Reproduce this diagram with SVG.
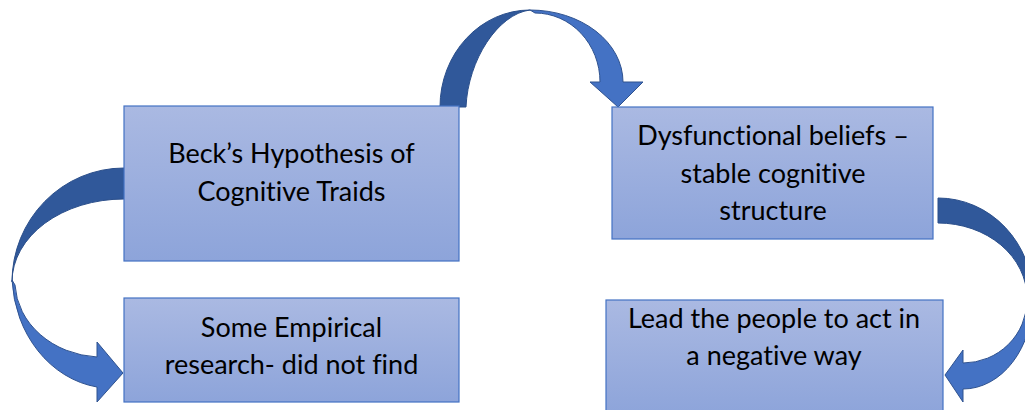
<svg xmlns="http://www.w3.org/2000/svg" width="1025" height="410" viewBox="0 0 1025 410">
  <defs>
    <linearGradient id="boxFill" x1="0" y1="0" x2="0" y2="1">
      <stop offset="0" stop-color="#AAB9E2"/>
      <stop offset="1" stop-color="#8DA4DA"/>
    </linearGradient>
    <style>
      .box { fill: url(#boxFill); stroke: #4472C4; stroke-width: 1.2; }
      .label { font-family: Lato, "Open Sans", "Liberation Sans", sans-serif; font-size: 27px; fill: #000; text-anchor: middle; font-variant-ligatures: none; }
      .back { fill: #30589A; stroke: #2A4E8A; stroke-width: 1; stroke-linejoin: round; }
      .front { fill: #4472C4; stroke: #2F528F; stroke-width: 1; stroke-linejoin: round; }
    </style>
  </defs>

  <rect width="1025" height="410" fill="#FFFFFF"/>

  <g id="connectors">
    <!-- top curved arrow: Beck's box -> Dysfunctional beliefs -->
    <path class="back" d="M440,107 A90,97 0 0 1 530,10 C498,14 468,60 466,107 Z"/>
    <path class="front" d="M530,10 A93,72 0 0 1 623,82 L643,82 L618,107 L590,82 L600,82 A65,69 0 0 0 535,13 Z"/>

    <!-- left curved arrow: Beck's box -> Some Empirical research -->
    <path class="back" d="M124,168 A112,114 0 0 0 12,282 A112,83 0 0 1 124,199 Z"/>
    <path class="front" d="M12,280 A100,115 0 0 0 97,387 L97,402 L123,373 L97,342 L97,357 A88,76 0 0 1 15,285 Z"/>

    <!-- right curved arrow: Dysfunctional beliefs -> Lead the people -->
    <path class="back" d="M938,198 A95,100 0 0 1 1033,298 L1027,298 A89,75 0 0 0 938,223 Z"/>
    <path class="front" d="M1033,298 A70,91 0 0 1 963,389 L963,402 L945,375 L963,350 L963,363 A64,63 0 0 0 1027,300 Z"/>
  </g>

  <g id="node-beck">
    <rect class="box" x="124" y="106" width="335" height="155"/>
    <text class="label" x="291.5" y="163">Beck’s Hypothesis of</text>
    <text class="label" x="291.5" y="201">Cognitive Traids</text>
  </g>

  <g id="node-dysfunctional">
    <rect class="box" x="612" y="107" width="321" height="132"/>
    <text class="label" x="773" y="145">Dysfunctional beliefs –</text>
    <text class="label" x="773" y="183">stable cognitive</text>
    <text class="label" x="773" y="220">structure</text>
  </g>

  <g id="node-empirical">
    <rect class="box" x="124" y="298" width="335" height="104"/>
    <text class="label" x="291.5" y="337">Some Empirical</text>
    <text class="label" x="291.5" y="374">research- did not find</text>
  </g>

  <g id="node-lead">
    <rect class="box" x="606" y="300" width="337" height="115"/>
    <text class="label" x="774" y="328">Lead the people to act in</text>
    <text class="label" x="774" y="365">a negative way</text>
  </g>
</svg>
